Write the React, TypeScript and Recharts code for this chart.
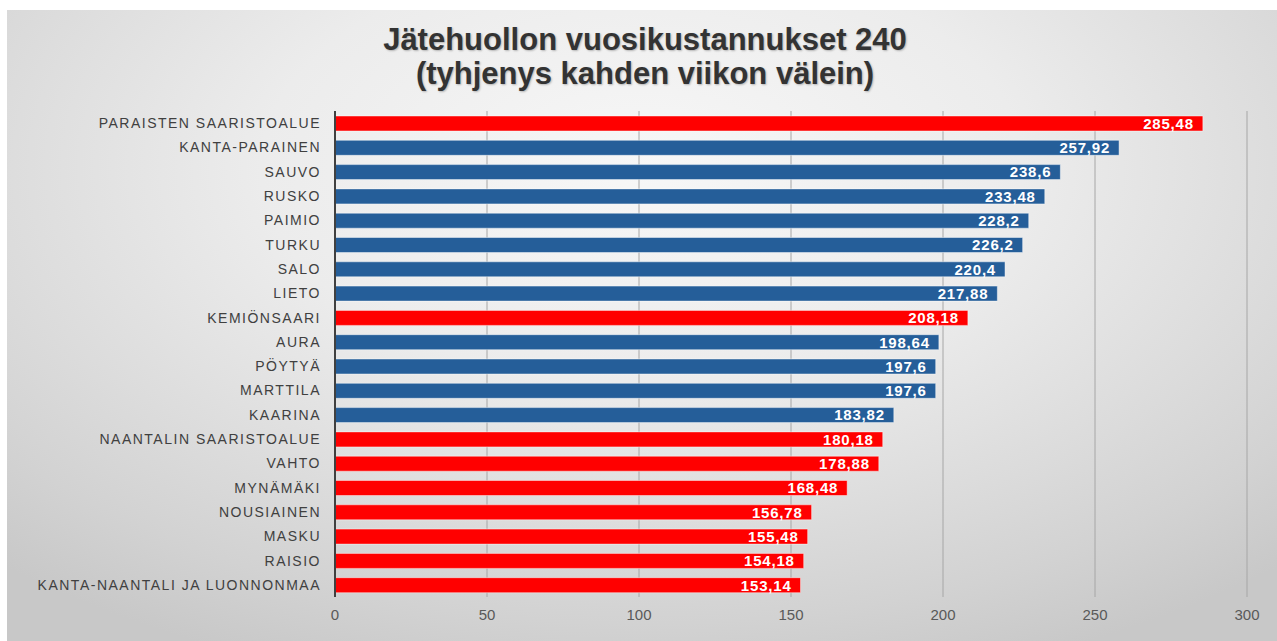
import React from "react";
import {
  BarChart,
  Bar,
  XAxis,
  YAxis,
  CartesianGrid,
  Cell,
  LabelList,
} from "recharts";

const categories = [
  "PARAISTEN SAARISTOALUE",
  "KANTA-PARAINEN",
  "SAUVO",
  "RUSKO",
  "PAIMIO",
  "TURKU",
  "SALO",
  "LIETO",
  "KEMIÖNSAARI",
  "AURA",
  "PÖYTYÄ",
  "MARTTILA",
  "KAARINA",
  "NAANTALIN SAARISTOALUE",
  "VAHTO",
  "MYNÄMÄKI",
  "NOUSIAINEN",
  "MASKU",
  "RAISIO",
  "KANTA-NAANTALI JA LUONNONMAA",
];

const costs = [
  285.48, 257.92, 238.6, 233.48, 228.2, 226.2, 220.4, 217.88, 208.18, 198.64,
  197.6, 197.6, 183.82, 180.18, 178.88, 168.48, 156.78, 155.48, 154.18, 153.14,
];

// true = shown in red in the original
const highlighted = [
  true, false, false, false, false, false, false, false, true, false,
  false, false, false, true, true, true, true, true, true, true,
];

const xTicks = [0, 50, 100, 150, 200, 250, 300];

const data = categories.map((name, i) => ({
  name,
  value: costs[i],
  red: highlighted[i],
}));

const fmt = (v: number) => String(v).replace(".", ",");

const App = () => {
  return (
    <div
      style={{
        position: "absolute",
        left: 0,
        top: 0,
        width: 1277,
        height: 641,
        background: "#ffffff",
        fontFamily: "'Liberation Sans', Arial, sans-serif",
      }}
    >
      <div
        style={{
          position: "absolute",
          left: 7,
          top: 10,
          width: 1270,
          height: 631,
          background:
            "radial-gradient(ellipse 75% 85% at 50% 25%, #f7f7f7 0%, #ececec 40%, #d2d2d2 85%, #c8c8c8 100%)",
        }}
      >
        <div
          style={{
            position: "absolute",
            left: 0,
            top: 13,
            width: 1276,
            textAlign: "center",
            fontSize: 31,
            fontWeight: "bold",
            lineHeight: "34px",
            color: "#333333",
            textShadow: "1px 1px 2px rgba(0,0,0,0.25)",
          }}
        >
          <div>Jätehuollon vuosikustannukset 240</div>
          <div>(tyhjenys kahden viikon välein)</div>
        </div>
        <BarChart
          width={1270}
          height={631}
          data={data}
          layout="vertical"
          margin={{ top: 101, right: 30, left: 0, bottom: 14 }}
          barSize={15}
        >
          <CartesianGrid horizontal={false} stroke="#a6a6a6" strokeWidth={1} />
          <XAxis
            type="number"
            domain={[0, 300]}
            ticks={xTicks}
            axisLine={false}
            tickLine={false}
            tickMargin={6}
            height={30}
            tick={{ fill: "#595959", fontSize: 15 }}
          />
          <YAxis
            type="category"
            dataKey="name"
            width={328}
            interval={0}
            tickLine={false}
            tickSize={0}
            tickMargin={14}
            axisLine={{ stroke: "#404040", strokeWidth: 2 }}
            tick={{ fill: "#404040", fontSize: 14, letterSpacing: 1.5 }}
          />
          <Bar
            dataKey="value"
            isAnimationActive={false}
            stroke="rgba(255,255,255,0.45)"
            strokeWidth={1}
          >
            {data.map((d, i) => (
              <Cell key={i} fill={d.red ? "#ff0000" : "#255e99"} />
            ))}
            <LabelList
              dataKey="value"
              position="insideRight"
              offset={9}
              formatter={(v: any) => fmt(v)}
              style={{
                fill: "#ffffff",
                fontSize: 15,
                fontWeight: "bold",
                letterSpacing: 0.8,
              }}
            />
          </Bar>
        </BarChart>
      </div>
    </div>
  );
};

export default App;
